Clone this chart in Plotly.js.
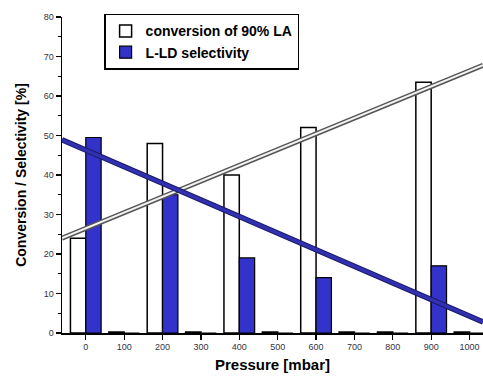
<!DOCTYPE html>
<html>
<head>
<meta charset="utf-8">
<script src="https://cdn.plot.ly/plotly-3.0.1.min.js"></script>
<style>html,body{margin:0;padding:0;background:#fff;}#chart{width:483px;height:376px;}</style>
</head>
<body>
<div id="chart"></div>
<script>
// Data
const pressure = [0, 100, 200, 300, 400, 500, 600, 700, 800, 900, 1000];
const conversion = [24, 0.25, 48, 0.25, 40, 0.25, 52, 0.25, 0.25, 63.5, 0.25];
const selectivity = [49.5, 0, 35, 0, 19, 0, 14, 0, 0, 17, 0];
const trendX = [-62, 1035];
const conversionTrend = [24, 67.8];
const selectivityTrend = [48.9, 2.8];
const xTicks = [0, 100, 200, 300, 400, 500, 600, 700, 800, 900, 1000];

const blue = '#3333cc';
const fam = 'Liberation Sans, Arial, sans-serif';
const tickFont = {family: fam, size: 9, color: '#333344'};

const traces = [
  {type: 'bar', x: pressure, y: conversion, name: 'conversion of 90% LA',
   width: 40, offset: -40,
   marker: {color: '#ffffff', line: {color: '#000', width: 1.5}}},
  {type: 'bar', x: pressure, y: selectivity, name: 'L-LD selectivity',
   width: 40, offset: 0,
   marker: {color: blue, line: {color: '#000', width: 1.2}}},
  {type: 'scatter', mode: 'lines', x: trendX, y: conversionTrend, showlegend: false,
   line: {color: '#555', width: 5}, hoverinfo: 'skip'},
  {type: 'scatter', mode: 'lines', x: trendX, y: conversionTrend, showlegend: false,
   line: {color: '#f4f4f4', width: 2}, hoverinfo: 'skip'},
  {type: 'scatter', mode: 'lines', x: trendX, y: selectivityTrend, showlegend: false,
   line: {color: '#1a1a66', width: 5.5}, hoverinfo: 'skip'},
  {type: 'scatter', mode: 'lines', x: trendX, y: selectivityTrend, showlegend: false,
   line: {color: '#3030b0', width: 3.5}, hoverinfo: 'skip'}
];

const layout = {
  width: 483, height: 376,
  margin: {l: 62, r: 0, t: 17, b: 43, pad: 0},
  paper_bgcolor: '#fff', plot_bgcolor: '#fff',
  barmode: 'overlay',
  showlegend: true,
  legend: {
    x: 0.1, y: 1.01, xanchor: 'left', yanchor: 'top',
    bordercolor: '#000', borderwidth: 1.5, bgcolor: '#fff',
    itemwidth: 30, tracegroupgap: 2,
    font: {family: fam, size: 14, color: '#000', weight: 'bold'}
  },
  xaxis: {
    range: [-62, 1035],
    tickmode: 'array', tickvals: xTicks, ticktext: xTicks.map(String),
    ticks: 'outside', ticklen: 5, tickwidth: 1.2, tickcolor: '#000',
    showline: true, linecolor: '#000', linewidth: 1.5,
    showgrid: false, zeroline: false,
    tickfont: tickFont,
    title: {text: 'Pressure [mbar]', font: {family: fam, size: 15, color: '#000', weight: 'bold'}, standoff: 8}
  },
  yaxis: {
    range: [0, 80], dtick: 10, tick0: 0,
    ticks: 'outside', ticklen: 5, tickwidth: 1.2, tickcolor: '#000',
    minor: {dtick: 5, ticks: 'outside', ticklen: 3, tickcolor: '#000', tickwidth: 1},
    showline: true, linecolor: '#000', linewidth: 1.5,
    showgrid: false, zeroline: false,
    tickfont: tickFont,
    title: {text: 'Conversion / Selectivity [%]', font: {family: fam, size: 14, color: '#000', weight: 'bold'}, standoff: 14}
  }
};

Plotly.newPlot('chart', traces, layout, {displayModeBar: false, staticPlot: true});
</script>
</body>
</html>
